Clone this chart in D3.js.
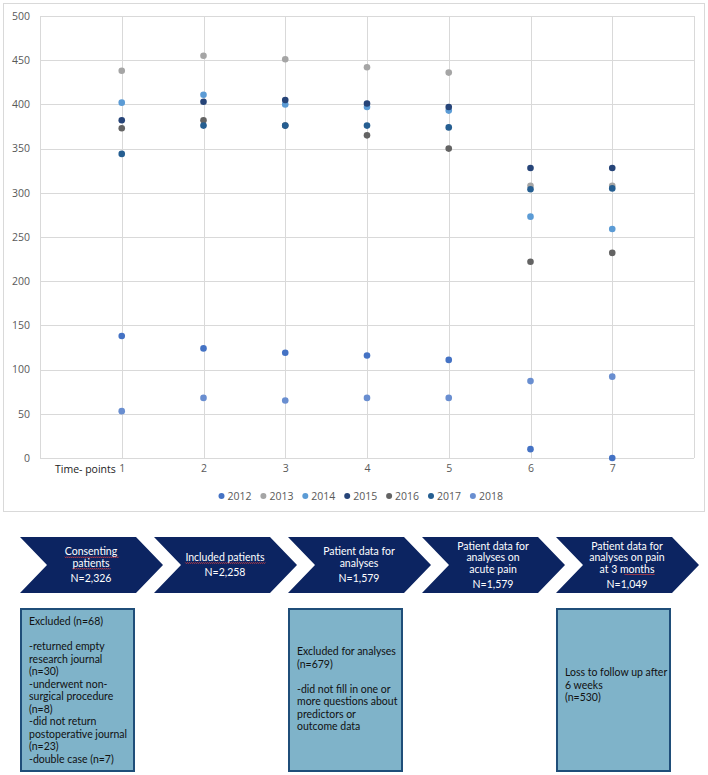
<!DOCTYPE html>
<html>
<head>
<meta charset="utf-8">
<script src="https://cdn.jsdelivr.net/npm/d3@7"></script>
<style>
  body { margin: 0; background: #fff; }
  text { font-family: "Open Sans", "Liberation Sans", sans-serif; }
  .flow text { font-family: Lato, "Open Sans", sans-serif; }
</style>
</head>
<body>
<div class="canvas"></div>
<script>
// data
const timePoints = [1, 2, 3, 4, 5, 6, 7]
const years = ['2012', '2013', '2014', '2015', '2016', '2017', '2018']
const s2012 = [138, 124, 119, 116, 111, 10, 0]
const s2013 = [438, 455, 451, 442, 436, 308, 308]
const s2014 = [402, 411, 400, 397, 393, 273, 259]
const s2015 = [382, 403, 405, 401, 397, 328, 328]
const s2016 = [373, 382, 376, 365, 350, 222, 232]
const s2017 = [344, 376, 376, 376, 374, 304, 305]
const s2018 = [53, 68, 65, 68, 68, 87, 92]
const yTicks = [0, 50, 100, 150, 200, 250, 300, 350, 400, 450, 500]

const flowSteps = [
  { lines: ['Consenting', 'patients'], n: 'N=2,326', wavy: [0, 1] },
  { lines: ['Included patients'], n: 'N=2,258', wavy: [0] },
  { lines: ['Patient data for', 'analyses'], n: 'N=1,579', wavy: [] },
  { lines: ['Patient data for', 'analyses on', 'acute pain'], n: 'N=1,579', wavy: [] },
  { lines: ['Patient data for', 'analyses on pain', 'at 3 months'], n: 'N=1,049', wavy: [] }
]
const exclusions = [
  { step: 0, lines: ['Excluded (n=68)', '', '-returned empty', 'research journal', '(n=30)', '-underwent non-', 'surgical procedure', '(n=8)', '-did not return', 'postoperative journal', '(n=23)', '-double case (n=7)'], top: 625 },
  { step: 2, lines: ['Excluded for analyses', '(n=679)', '', '-did not fill in one or', 'more questions about', 'predictors or', 'outcome data'], top: 655 },
  { step: 4, lines: ['Loss to follow up after', '6 weeks', '(n=530)'], top: 676 }
]

const colors = ['#4472c4', '#a5a5a5', '#5b9bd5', '#264478', '#636363', '#255e91', '#698ed0']
const series = [s2012, s2013, s2014, s2015, s2016, s2017, s2018]

const width = 708, height = 775
const svg = d3.select('.canvas').append('svg')
    .attr('width', width)
    .attr('height', height)

// chart frame
svg.append('rect')
    .attr('x', 3.5).attr('y', 3.5)
    .attr('width', 701).attr('height', 508)
    .attr('fill', 'none')
    .attr('stroke', '#d9d9d9')

const x = d3.scaleLinear().domain([0, 8]).range([40, 694])
const y = d3.scaleLinear().domain([0, 500]).range([458, 16])

// gridlines
svg.append('g')
    .selectAll('line')
    .data(yTicks)
    .join('line')
    .attr('x1', x(0)).attr('x2', x(8))
    .attr('y1', d => Math.round(y(d)) + .5).attr('y2', d => Math.round(y(d)) + .5)
    .attr('stroke', '#d9d9d9')

svg.append('g')
    .selectAll('line')
    .data([0, ...timePoints, 8])
    .join('line')
    .attr('x1', d => Math.round(x(d)) + .5).attr('x2', d => Math.round(x(d)) + .5)
    .attr('y1', y(0)).attr('y2', y(500))
    .attr('stroke', '#d9d9d9')

// axes (labels only)
const yAxis = svg.append('g')
    .attr('transform', `translate(${x(0)},0)`)
    .call(d3.axisLeft(y).tickValues(yTicks).tickSize(0).tickPadding(10))
yAxis.select('.domain').remove()
yAxis.selectAll('text').attr('fill', '#595959').style('font-size', '10.5px')

const xAxis = svg.append('g')
    .attr('transform', `translate(0,${y(0)})`)
    .call(d3.axisBottom(x).tickValues(timePoints).tickFormat(d3.format('d')).tickSize(0).tickPadding(7))
xAxis.select('.domain').remove()
xAxis.selectAll('text').attr('fill', '#595959').style('font-size', '10.5px')

svg.append('text')
    .attr('x', 55).attr('y', 473)
    .style('font-size', '10.5px')
    .attr('fill', '#222')
    .text('Time- points')

// points
series.forEach((vals, i) => {
  svg.append('g')
      .selectAll('circle')
      .data(vals)
      .join('circle')
      .attr('cx', (d, j) => x(timePoints[j]))
      .attr('cy', d => y(d))
      .attr('r', 3.3)
      .attr('fill', colors[i])
})

// legend
const legend = svg.append('g')
    .selectAll('g')
    .data(years)
    .join('g')
    .attr('transform', (d, i) => `translate(${221.5 + i * 41.9},496)`)
legend.append('circle').attr('r', 3).attr('fill', (d, i) => colors[i])
legend.append('text')
    .attr('x', 6).attr('dy', '0.35em')
    .style('font-size', '10.5px')
    .attr('fill', '#595959')
    .text(d => d)

// flow chart
const chevTop = 537, chevBot = 593, chevW = 143, depth = 27, step = 134
const chevMid = (chevTop + chevBot) / 2

const flow = svg.append('g').attr('class', 'flow')
const chev = flow.selectAll('g')
    .data(flowSteps)
    .join('g')
    .attr('transform', (d, i) => `translate(${20 + i * step},0)`)

chev.append('path')
    .attr('d', `M0,${chevTop} L${chevW - depth},${chevTop} L${chevW},${chevMid} L${chevW - depth},${chevBot} L0,${chevBot} L${depth},${chevMid} Z`)
    .attr('fill', '#0c2461')

function wavy(g, x1, x2, yy) {
  let p = `M${x1},${yy}`
  for (let xx = x1; xx < x2; xx += 2) p += ` L${xx + 1},${yy + 1} L${xx + 2},${yy}`
  g.append('path').attr('d', p).attr('fill', 'none')
      .attr('stroke', '#e04040').attr('stroke-width', .8)
}

chev.each(function(d) {
  const g = d3.select(this)
  const cx = 71
  const lineH = 11.5, gapN = 15
  const span = (d.lines.length - 1) * lineH + gapN
  const first = 565 - span / 2
  d.lines.forEach((t, k) => {
    const ty = first + k * lineH
    const txt = g.append('text')
        .attr('x', cx).attr('y', ty).attr('dy', '0.35em')
        .attr('text-anchor', 'middle')
        .attr('fill', '#fff')
        .style('font-size', '10.5px')
        .text(t)
    const w = txt.node().getComputedTextLength()
    if (d.wavy.includes(k)) wavy(g, cx - w / 2, cx + w / 2, ty + 5)
    if (t == 'at 3 months') {
      const mw = w * 6 / 11
      wavy(g, cx + w / 2 - mw, cx + w / 2, ty + 5)
    }
  })
  g.append('text')
      .attr('x', cx).attr('y', first + (d.lines.length - 1) * lineH + gapN).attr('dy', '0.35em')
      .attr('text-anchor', 'middle')
      .attr('fill', '#fff')
      .style('font-size', '10.5px')
      .text(d.n)
})

// exclusion boxes
const boxW = 113, boxTop = 609, boxBot = 771
exclusions.forEach(e => {
  const bx = 21 + e.step * step
  flow.append('rect')
      .attr('x', bx).attr('y', boxTop)
      .attr('width', boxW).attr('height', boxBot - boxTop)
      .attr('fill', '#7fb3c9')
      .attr('stroke', '#1f4e79')
      .attr('stroke-width', 2)
  flow.append('g')
      .selectAll('text')
      .data(e.lines)
      .join('text')
      .attr('x', bx + 8)
      .attr('y', (d, k) => e.top + k * 12.5)
      .attr('fill', '#111')
      .style('font-size', '10.5px')
      .text(d => d)
})
</script>
</body>
</html>
